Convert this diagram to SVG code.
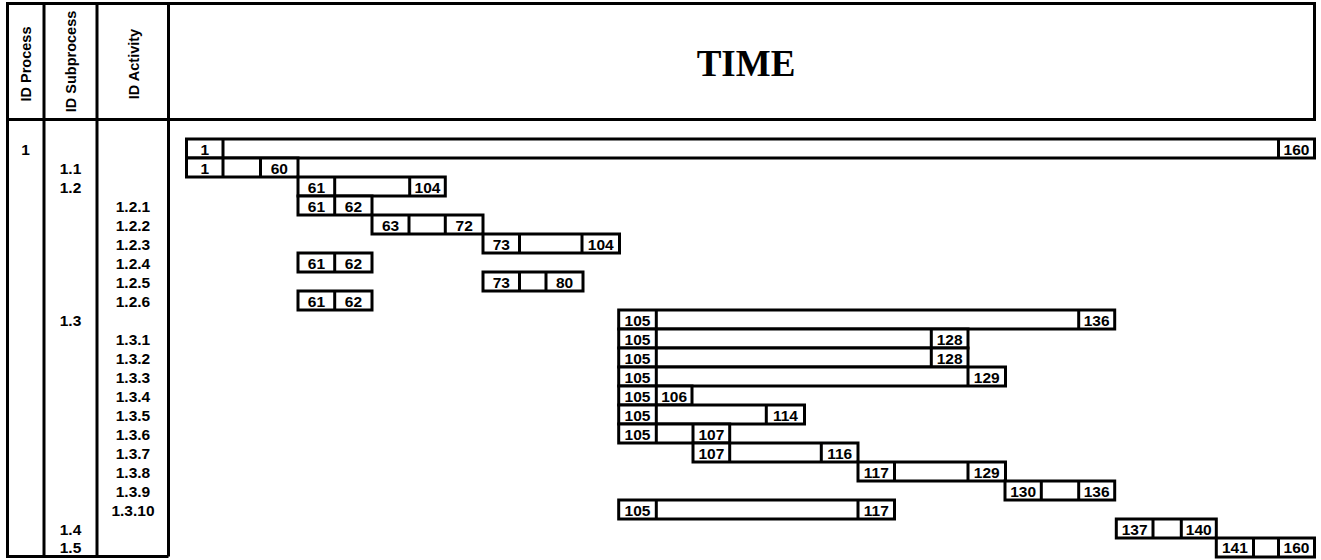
<svg xmlns="http://www.w3.org/2000/svg" width="1321" height="560" viewBox="0 0 1321 560">
<style>
.fr{fill:none;stroke:#000;stroke-width:3}
.bar{fill:#fff;stroke:#000;stroke-width:3}
.dv{stroke:#000;stroke-width:3}
.t{font-family:"Liberation Sans",Arial,sans-serif;font-weight:bold;font-size:15.5px;fill:#000;text-anchor:middle}
.h{font-family:"Liberation Sans",Arial,sans-serif;font-weight:bold;font-size:14.5px;fill:#000;text-anchor:middle}
.time{font-family:"Liberation Serif","Times New Roman",serif;font-weight:bold;font-size:37px;fill:#000;text-anchor:middle}
</style>
<rect width="1321" height="560" fill="#fff"/>
<g id="frame">
<rect class="fr" x="7.5" y="3.5" width="1307" height="116"/>
<path class="fr" d="M7.5 119.5V556.5H168.5M44 3.5V556.5M97 3.5V556.5M168.5 3.5V556.5"/>
</g>
<g id="header">
<text class="h" transform="translate(31,64) rotate(-90)">ID Process</text>
<text class="h" transform="translate(76,61.5) rotate(-90)">ID Subprocess</text>
<text class="h" transform="translate(138.5,64) rotate(-90)">ID Activity</text>
<text class="time" x="746" y="76">TIME</text>
</g>
<g id="row-1"><text class="t" x="25.5" y="154.5">1</text>
<rect class="bar" x="186.5" y="139" width="1128" height="19"/><path class="dv" d="M223 139v19M1278.5 139v19"/>
<text class="t" x="204.8" y="154.5">1</text><text class="t" x="1296.5" y="154.5">160</text></g>
<g id="row-1-1"><text class="t" x="70.5" y="173.5">1.1</text>
<rect class="bar" x="186.5" y="158" width="111.5" height="19"/><path class="dv" d="M223 158v19M260.5 158v19"/>
<text class="t" x="204.8" y="173.5">1</text><text class="t" x="279.3" y="173.5">60</text></g>
<g id="row-1-2"><text class="t" x="70.5" y="192.5">1.2</text>
<rect class="bar" x="298" y="177" width="147.3" height="19"/><path class="dv" d="M334.7 177v19M409.7 177v19"/>
<text class="t" x="316.4" y="192.5">61</text><text class="t" x="427.5" y="192.5">104</text></g>
<g id="row-1-2-1"><text class="t" x="133" y="211.5">1.2.1</text>
<rect class="bar" x="298" y="196" width="74" height="19"/><path class="dv" d="M334.7 196v19"/>
<text class="t" x="316.4" y="211.5">61</text><text class="t" x="353.4" y="211.5">62</text></g>
<g id="row-1-2-2"><text class="t" x="133" y="230.5">1.2.2</text>
<rect class="bar" x="372" y="215" width="111" height="19"/><path class="dv" d="M409 215v19M445.3 215v19"/>
<text class="t" x="390.5" y="230.5">63</text><text class="t" x="464.2" y="230.5">72</text></g>
<g id="row-1-2-3"><text class="t" x="133" y="249.5">1.2.3</text>
<rect class="bar" x="483" y="234" width="136.5" height="19"/><path class="dv" d="M519.5 234v19M582 234v19"/>
<text class="t" x="501.3" y="249.5">73</text><text class="t" x="600.8" y="249.5">104</text></g>
<g id="row-1-2-4"><text class="t" x="133" y="268.5">1.2.4</text>
<rect class="bar" x="298" y="253" width="74" height="19"/><path class="dv" d="M334.7 253v19"/>
<text class="t" x="316.4" y="268.5">61</text><text class="t" x="353.4" y="268.5">62</text></g>
<g id="row-1-2-5"><text class="t" x="133" y="287.5">1.2.5</text>
<rect class="bar" x="483" y="272" width="100" height="19"/><path class="dv" d="M519.5 272v19M546 272v19"/>
<text class="t" x="501.3" y="287.5">73</text><text class="t" x="564.5" y="287.5">80</text></g>
<g id="row-1-2-6"><text class="t" x="133" y="306.5">1.2.6</text>
<rect class="bar" x="298" y="291" width="74" height="19"/><path class="dv" d="M334.7 291v19"/>
<text class="t" x="316.4" y="306.5">61</text><text class="t" x="353.4" y="306.5">62</text></g>
<g id="row-1-3"><text class="t" x="70.5" y="325.5">1.3</text>
<rect class="bar" x="618.7" y="310" width="496" height="19"/><path class="dv" d="M656.3 310v19M1078.7 310v19"/>
<text class="t" x="637.5" y="325.5">105</text><text class="t" x="1096.7" y="325.5">136</text></g>
<g id="row-1-3-1"><text class="t" x="133" y="344.5">1.3.1</text>
<rect class="bar" x="618.7" y="329" width="349.3" height="19"/><path class="dv" d="M656.3 329v19M931.3 329v19"/>
<text class="t" x="637.5" y="344.5">105</text><text class="t" x="949.7" y="344.5">128</text></g>
<g id="row-1-3-2"><text class="t" x="133" y="363.5">1.3.2</text>
<rect class="bar" x="618.7" y="348" width="349.3" height="19"/><path class="dv" d="M656.3 348v19M931.3 348v19"/>
<text class="t" x="637.5" y="363.5">105</text><text class="t" x="949.7" y="363.5">128</text></g>
<g id="row-1-3-3"><text class="t" x="133" y="382.5">1.3.3</text>
<rect class="bar" x="618.7" y="367" width="386.8" height="19"/><path class="dv" d="M656.3 367v19M968 367v19"/>
<text class="t" x="637.5" y="382.5">105</text><text class="t" x="986.8" y="382.5">129</text></g>
<g id="row-1-3-4"><text class="t" x="133" y="401.5">1.3.4</text>
<rect class="bar" x="618.7" y="386" width="73.3" height="19"/><path class="dv" d="M656.3 386v19"/>
<text class="t" x="637.5" y="401.5">105</text><text class="t" x="674.2" y="401.5">106</text></g>
<g id="row-1-3-5"><text class="t" x="133" y="420.5">1.3.5</text>
<rect class="bar" x="618.7" y="405" width="185.8" height="19"/><path class="dv" d="M656.3 405v19M766.3 405v19"/>
<text class="t" x="637.5" y="420.5">105</text><text class="t" x="785.4" y="420.5">114</text></g>
<g id="row-1-3-6"><text class="t" x="133" y="439.5">1.3.6</text>
<rect class="bar" x="618.7" y="424" width="111" height="19"/><path class="dv" d="M656.3 424v19M693 424v19"/>
<text class="t" x="637.5" y="439.5">105</text><text class="t" x="711.4" y="439.5">107</text></g>
<g id="row-1-3-7"><text class="t" x="133" y="458.5">1.3.7</text>
<rect class="bar" x="693" y="443" width="165" height="19"/><path class="dv" d="M729.7 443v19M821.3 443v19"/>
<text class="t" x="711.4" y="458.5">107</text><text class="t" x="839.7" y="458.5">116</text></g>
<g id="row-1-3-8"><text class="t" x="133" y="477.5">1.3.8</text>
<rect class="bar" x="858" y="462" width="147.5" height="19"/><path class="dv" d="M894.5 462v19M968 462v19"/>
<text class="t" x="876.3" y="477.5">117</text><text class="t" x="986.8" y="477.5">129</text></g>
<g id="row-1-3-9"><text class="t" x="133" y="496.5">1.3.9</text>
<rect class="bar" x="1005" y="481" width="109.7" height="19"/><path class="dv" d="M1041.3 481v19M1078.7 481v19"/>
<text class="t" x="1023.2" y="496.5">130</text><text class="t" x="1096.7" y="496.5">136</text></g>
<g id="row-1-3-10"><text class="t" x="133" y="515.5">1.3.10</text>
<rect class="bar" x="618.7" y="500" width="275.8" height="19"/><path class="dv" d="M656.3 500v19M858 500v19"/>
<text class="t" x="637.5" y="515.5">105</text><text class="t" x="876.3" y="515.5">117</text></g>
<g id="row-1-4"><text class="t" x="70.5" y="534.5">1.4</text>
<rect class="bar" x="1116.3" y="519" width="100" height="19"/><path class="dv" d="M1153 519v19M1181.3 519v19"/>
<text class="t" x="1134.7" y="534.5">137</text><text class="t" x="1198.8" y="534.5">140</text></g>
<g id="row-1-5"><text class="t" x="70.5" y="553">1.5</text>
<rect class="bar" x="1216.3" y="538" width="98.2" height="19"/><path class="dv" d="M1253.5 538v19M1278.5 538v19"/>
<text class="t" x="1234.9" y="553">141</text><text class="t" x="1296.5" y="553">160</text></g>
</svg>
